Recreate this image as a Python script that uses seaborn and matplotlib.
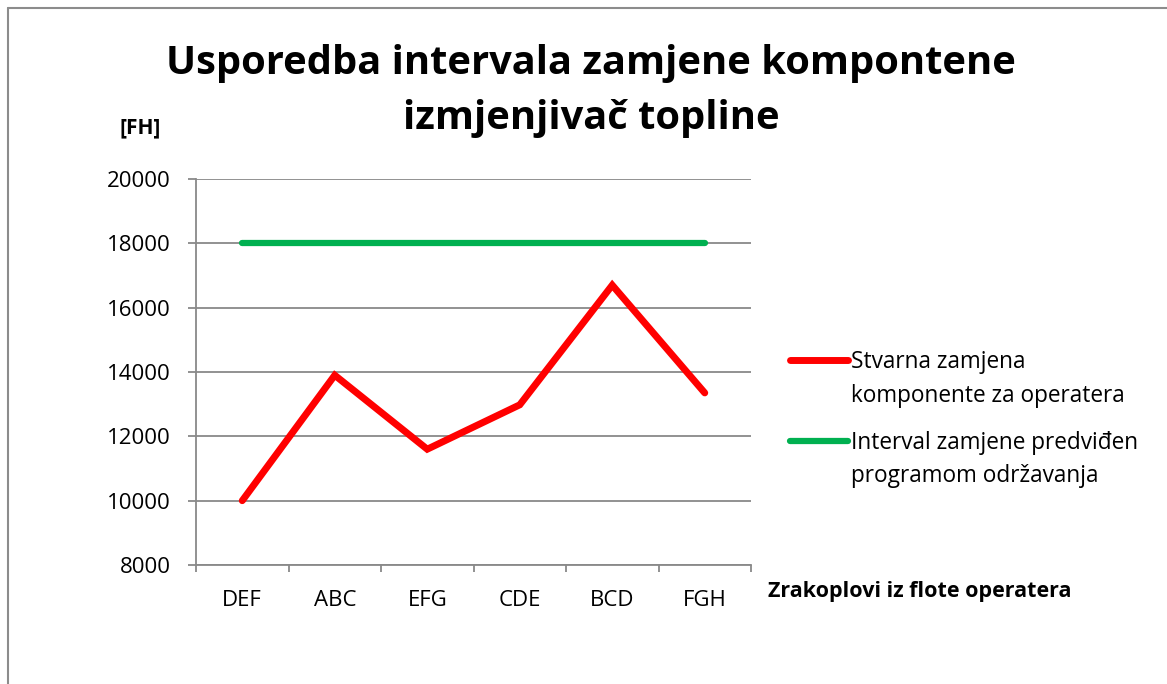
import matplotlib
matplotlib.use("Agg")
import matplotlib.pyplot as plt
import seaborn as sns
import pandas as pd
from matplotlib.legend_handler import HandlerLine2D
from matplotlib.lines import Line2D

# ---- data ----
aircraft = ["DEF", "ABC", "EFG", "CDE", "BCD", "FGH"]
actual_fh = [10000, 13900, 11600, 12980, 16700, 13350]
planned_fh = [18000, 18000, 18000, 18000, 18000, 18000]
series_labels = ["Stvarna zamjena\nkomponente za operatera",
                 "Interval zamjene predviđen\nprogramom održavanja"]
y_ticks = [8000, 10000, 12000, 14000, 16000, 18000, 20000]
title_text = "Usporedba intervala zamjene kompontene\nizmjenjivač topline"
y_unit = "[FH]"
x_title = "Zrakoplovi iz flote operatera"

sns.set_theme(style="white")
plt.rcParams['font.family'] = ['Open Sans', 'DejaVu Sans']
plt.rcParams['text.color'] = '#000000'

W, H = 1167, 684
fig = plt.figure(figsize=(W / 100, H / 100), dpi=100)
ax = fig.add_axes([196 / W, 1 - 565 / H, (751 - 196) / W, (565 - 179) / H])

df_actual = pd.DataFrame({"aircraft": aircraft, "FH": actual_fh})
df_plan = pd.DataFrame({"aircraft": aircraft, "FH": planned_fh})

grid_c = "#898989"
ax.set_axisbelow(True)
sns.lineplot(data=df_actual, x="aircraft", y="FH", color="#FF0000", linewidth=5,
             solid_capstyle="round", solid_joinstyle="miter", sort=False, ax=ax,
             label=series_labels[0])
sns.lineplot(data=df_plan, x="aircraft", y="FH", color="#00B050", linewidth=4.5,
             solid_capstyle="round", sort=False, ax=ax, label=series_labels[1])

ax.set_xlim(-0.5, len(aircraft) - 0.5)
ax.set_ylim(min(y_ticks), max(y_ticks))
ax.set_yticks(y_ticks)
ax.set_yticklabels([str(v) for v in y_ticks])
ax.set_xticks(range(len(aircraft)))
ax.set_xticklabels(aircraft)
ax.set_xticks([i - 0.5 for i in range(len(aircraft) + 1)], minor=True)
ax.set_xlabel("")
ax.set_ylabel("")

ax.yaxis.grid(True, color=grid_c, linewidth=1.3)
ax.xaxis.grid(False)
for s in ["top", "right"]:
    ax.spines[s].set_visible(False)
for s in ["left", "bottom"]:
    ax.spines[s].set_color(grid_c)
    ax.spines[s].set_linewidth(1.3)

ax.tick_params(axis="y", which="major", direction="out", length=6, width=1.3,
               color=grid_c, pad=12, labelsize=16, labelcolor="#000000", left=True)
ax.tick_params(axis="x", which="major", length=0, pad=18, labelsize=16,
               labelcolor="#000000")
ax.tick_params(axis="x", which="minor", direction="out", length=5, width=1.3,
               color=grid_c, bottom=True)

# ---- legend ----
class TopLineHandler(HandlerLine2D):
    def create_artists(self, legend, orig_handle, xdescent, ydescent, width,
                       height, fontsize, trans):
        arts = super().create_artists(legend, orig_handle, xdescent, ydescent,
                                      width, height, fontsize, trans)
        for a in arts:
            a.set_ydata([v + 0.88 * fontsize for v in a.get_ydata()])
        return arts

handles, labels = ax.get_legend_handles_labels()
ax.get_legend().remove()
leg = fig.legend(handles, labels, loc="upper left",
                 bbox_to_anchor=(790 / W, 1 - 350 / H), frameon=False,
                 fontsize=16.3, handlelength=2.55, handletextpad=0.15,
                 labelspacing=1.0, borderpad=0, borderaxespad=0,
                 handler_map={Line2D: TopLineHandler()})
for t in leg.get_texts():
    t.set_linespacing(1.55)
    t.set_color("#000000")
for l in leg.get_lines():
    l.set_solid_capstyle("round")

# ---- texts ----
fig.text(591 / W, 1 - 91 / H, title_text, ha="center", va="center",
         fontsize=28.7, fontweight="bold", linespacing=1.55, color="#000000")
fig.text(140 / W, 1 - 128 / H, y_unit, ha="center", va="center",
         fontsize=15, fontweight="bold", color="#000000")
fig.text(768 / W, 1 - 592 / H, x_title, ha="left", va="center",
         fontsize=15.5, fontweight="bold", color="#000000")

# ---- chart area border (left & top visible) ----
bc = "#8c8c8c"
fig.add_artist(Line2D([8 / W, 8 / W], [0, 1 - 8 / H], transform=fig.transFigure,
                      color=bc, linewidth=1.5))
fig.add_artist(Line2D([8 / W, 1], [1 - 8 / H, 1 - 8 / H], transform=fig.transFigure,
                      color=bc, linewidth=1.5))

fig.savefig("out.png", dpi=100)
